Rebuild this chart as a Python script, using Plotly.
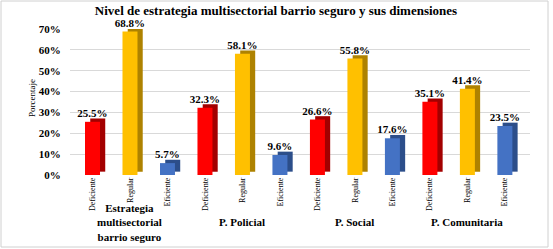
import plotly.graph_objects as go

groups = ["Estrategia<br>multisectorial<br>barrio seguro", "P. Policial", "P. Social", "P. Comunitaria"]
levels = ["Deficiente", "Regular", "Eficiente"]
deficiente = [25.5, 32.3, 26.6, 35.1]
regular = [68.8, 58.1, 55.8, 41.4]
eficiente = [5.7, 9.6, 17.6, 23.5]
y_ticks = [0, 10, 20, 30, 40, 50, 60, 70]
y_tick_text = [f"{v}%" for v in y_ticks]

SERIF = "Times New Roman, Liberation Serif, DejaVu Serif, serif"

front_colors = {"Deficiente": "#FF0000", "Regular": "#FFC000", "Eficiente": "#4472C4"}
side_colors = {"Deficiente": "#A30000", "Regular": "#AE8200", "Eficiente": "#2C4E8A"}

series = {"Deficiente": deficiente, "Regular": regular, "Eficiente": eficiente}
xs, vals, fc, sc, tick_text = [], [], [], [], []
i = 0
for g in range(len(groups)):
    for lv in levels:
        xs.append(i)
        vals.append(series[lv][g])
        fc.append(front_colors[lv])
        sc.append(side_colors[lv])
        tick_text.append(lv)
        i += 1

W, H = 553, 249
ml, mr, mt, mb = 70, 23, 29, 74
pw, ph = W - ml - mr, H - mt - mb

bw = 0.4
fig = go.Figure()
# side (depth) face
fig.add_trace(go.Bar(x=xs, y=vals, base=[1.6] * len(vals), width=bw, offset=-bw / 2 + 0.14,
                     marker=dict(color=sc, line=dict(width=0)), hoverinfo="skip", showlegend=False))
# front face
fig.add_trace(go.Bar(x=xs, y=vals, width=bw, offset=-bw / 2,
                     marker=dict(color=fc, line=dict(width=0)),
                     text=[f"{v:.1f}%" for v in vals], textposition="outside",
                     textfont=dict(family=SERIF, size=11, color="black", weight="bold"),
                     constraintext="none", cliponaxis=False, showlegend=False))

annotations = []
for g, name in enumerate(groups):
    annotations.append(dict(x=g * 3 + 1, y=(mt + ph - 222) / ph, xref="x", yref="paper",
                            text=f"<b>{name}</b>", showarrow=False, yanchor="middle",
                            font=dict(family=SERIF, size=11, color="black")))
annotations.append(dict(x=(25 - ml) / pw, y=(mt + ph - 98) / ph, xref="paper", yref="paper",
                        text="Porcentaje", textangle=-90, showarrow=False,
                        font=dict(family=SERIF, size=9, color="black")))

fig.update_layout(
    width=W, height=H, margin=dict(l=ml, r=mr, t=mt, b=mb, autoexpand=False),
    paper_bgcolor="white", plot_bgcolor="white", barmode="overlay",
    title=dict(text="<b>Nivel de estrategia multisectorial barrio seguro y sus dimensiones</b>",
               x=276 / W, xanchor="center", y=1 - 10 / H, yanchor="middle", yref="container",
               font=dict(family=SERIF, size=13, color="black")),
    xaxis=dict(range=[-0.6, 11.67], tickmode="array", tickvals=xs, ticktext=tick_text,
               tickangle=-90, showgrid=False, zeroline=False, showline=False, automargin=False,
               tickfont=dict(family=SERIF, size=8, color="black")),
    yaxis=dict(range=[0, 70], tickmode="array", tickvals=y_ticks, ticktext=y_tick_text,
               showgrid=True, gridcolor="#D9D9D9", gridwidth=1, zeroline=False, showline=False,
               ticks="outside", ticklen=6, tickcolor="white", automargin=False,
               tickfont=dict(family=SERIF, size=11, color="black", weight="bold")),
    annotations=annotations,
    shapes=[dict(type="rect", xref="paper", yref="paper",
                 x0=(1 - ml) / pw, x1=(548 - ml) / pw,
                 y0=(mt + ph - 247) / ph, y1=(mt + ph - 1) / ph,
                 line=dict(color="#D0D0D0", width=1), fillcolor="rgba(0,0,0,0)", layer="below")],
)

fig.write_html("out.html", post_script="document.body.style.margin='0';",
               config={"displayModeBar": False})
